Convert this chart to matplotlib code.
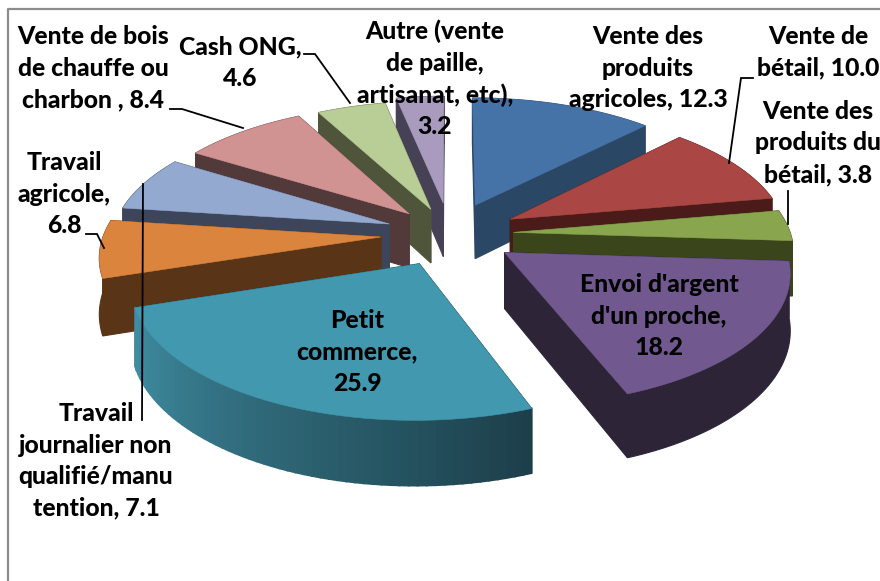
import matplotlib
matplotlib.use("Agg")
import matplotlib.pyplot as plt
from matplotlib.colors import to_rgb
from matplotlib.patches import Polygon
import numpy as np

# Values, clockwise from 12 o'clock
values = [12.3, 10.0, 3.8, 18.2, 25.9, 7.1, 6.8, 8.4, 4.6, 3.2]
label_names = ["Vente des\nproduits\nagricoles, ", "Vente de\nbétail, ", "Vente des\nproduits du\nbétail, ",
               "Envoi d'argent\nd'un proche,\n", "Petit\ncommerce,\n", "Travail\njournalier non\nqualifié/manu\ntention, ",
               "Travail\nagricole,\n", "Vente de bois\nde chauffe ou\ncharbon , ", "Cash ONG,\n", "Autre (vente\nde paille,\nartisanat, etc),\n"]
top_colors = ["#4572A7", "#AA4643", "#89A54E", "#71588F", "#4198AF", "#DB843D", "#93A9CF", "#D19392", "#B9CD96", "#A99BBD"]
side_colors = ["#2A4766", "#4A1B18", "#3A451B", "#2D2438", "#1D3F4A", "#5A3416", "#3C4559", "#533A3A", "#4E553A", "#464155"]
explode = [0.25, 0.25, 0.23, 0.24, 0.25, 0.25, 0.235, 0.22, 0.21, 0.25]
draw_order = [9, 8, 7, 6, 5, 4, 0, 1, 2, 3]

# Label centres in pixels
label_xy = [(648, 68), (818, 52), (818, 143), (659, 316), (357, 352), (96, 461), (64, 194), (93, 68), (240, 63), (435, 79)]

# Leader lines in pixels
leaders = [[(170, 109), (182, 109), (243, 128)],
           [(304, 54), (315, 54), (350, 103)],
           [(753, 78), (741, 78), (729, 163)],
           [(788, 191), (788, 224)],
           [(86, 234), (97, 234), (104, 248)],
           [(143, 184), (142, 420)]]

# Fake perspective for the tilted pie
cx, cy = 450, 234
rx, ry, rz = 277, 128, 55
k = 0.129


def project(x, y, down=0.0):
    w = 1 + k * y
    return np.column_stack([cx + rx * x / w, cy - ry * y / w + rz * down / w])


def wall(ax, top, bottom, color, lw=0.8):
    ax.add_patch(Polygon(np.vstack([top, bottom[::-1]]), closed=True, fc=color, ec=color, lw=lw))


fig = plt.figure(figsize=(8.8, 5.81), dpi=100)
ax = fig.add_axes([0, 0, 1, 1])
ax.set_xlim(0, 880)
ax.set_ylim(581, 0)
ax.axis("off")

# chart frame, cut off on the right and at the bottom
ax.plot([7.5, 7.5, 880], [581, 9, 9], color="#8C8C8C", lw=1.6)

edges = np.concatenate([[0], np.cumsum(values)]) / np.sum(values) * 2 * np.pi

for i in draw_order:
    t = np.linspace(edges[i], edges[i + 1], 60)
    mid = (edges[i] + edges[i + 1]) / 2
    ox, oy = explode[i] * np.sin(mid), explode[i] * np.cos(mid)
    x = np.sin(t) + ox
    y = np.cos(t) + oy
    outline_x = np.concatenate([[ox], x])
    outline_y = np.concatenate([[oy], y])

    # cut faces
    for a, b in [(x[0], y[0]), (x[-1], y[-1])]:
        fx = np.array([ox, a])
        fy = np.array([oy, b])
        wall(ax, project(fx, fy), project(fx, fy, 1), side_colors[i])

    # outer wall, the big front slice gets darker to the right
    top = project(x, y)
    bottom = project(x, y, 1)
    if i == 4:
        dark = np.array(to_rgb(side_colors[i]))
        light = np.array(to_rgb("#3F8DA2"))
        for j in range(len(t) - 1):
            c = dark + (light - dark) * j / (len(t) - 2)
            wall(ax, top[j:j + 2], bottom[j:j + 2], c, lw=1.2)
    else:
        wall(ax, top, bottom, side_colors[i])

    ax.add_patch(Polygon(project(outline_x, outline_y), closed=True, fc=top_colors[i], ec=top_colors[i], lw=0.4))

for pts in leaders:
    px, py = zip(*pts)
    ax.plot(px, py, color="black", lw=1.3, solid_joinstyle="miter")

for name, val, (lx, ly) in zip(label_names, values, label_xy):
    ax.text(lx, ly, f"{name}{val:.1f}", ha="center", va="center", ma="center", family="Lato",
            weight=900, fontsize=17.8, linespacing=1.44, color="black")

fig.savefig("out.png", dpi=100)
